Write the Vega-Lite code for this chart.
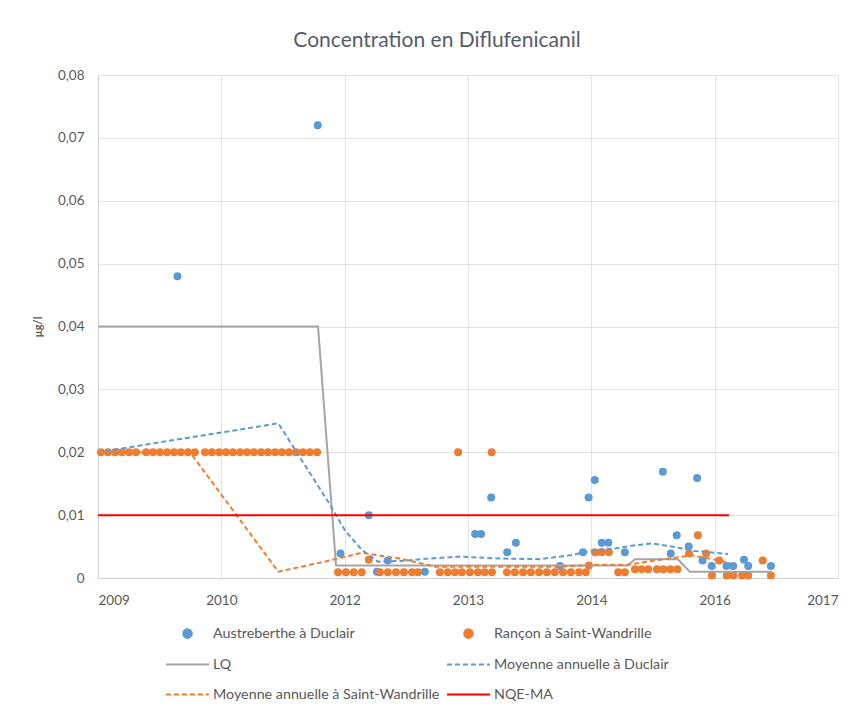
{
  "$schema": "https://vega.github.io/schema/vega-lite/v6.json",
  "width": 740,
  "height": 503,
  "autosize": {"type": "none"},
  "padding": {"left": 98, "top": 75, "right": 24, "bottom": 128},
  "background": "white",
  "title": {"text": "Concentration en Diflufenicanil", "fontSize": 21, "font": "Lato", "fontWeight": "normal", "color": "#555D69", "anchor": "middle", "dx": -31, "offset": 17},
  "config": {
    "view": {"stroke": null},
    "font": "Lato",
    "axis": {"labelFont": "Lato", "labelFontSize": 13.5, "labelColor": "#595959", "gridColor": "#E3E3E3", "domainColor": "#D0D0D0", "ticks": false, "titleFont": "Lato"}
  },
  "datasets": {
    "pts": [
      {"serie": "Austreberthe à Duclair", "date": "2010-05-24", "val": 0.048},
      {"serie": "Austreberthe à Duclair", "date": "2011-12-14", "val": 0.072},
      {"serie": "Austreberthe à Duclair", "date": "2012-03-15", "val": 0.0039},
      {"serie": "Austreberthe à Duclair", "date": "2012-07-08", "val": 0.010},
      {"serie": "Austreberthe à Duclair", "date": "2012-08-10", "val": 0.001},
      {"serie": "Austreberthe à Duclair", "date": "2012-09-23", "val": 0.0028},
      {"serie": "Austreberthe à Duclair", "date": "2013-02-20", "val": 0.001},
      {"serie": "Austreberthe à Duclair", "date": "2013-09-12", "val": 0.007},
      {"serie": "Austreberthe à Duclair", "date": "2013-10-06", "val": 0.007},
      {"serie": "Austreberthe à Duclair", "date": "2013-11-16", "val": 0.0128},
      {"serie": "Austreberthe à Duclair", "date": "2014-01-20", "val": 0.0041},
      {"serie": "Austreberthe à Duclair", "date": "2014-02-24", "val": 0.0056},
      {"serie": "Austreberthe à Duclair", "date": "2014-08-22", "val": 0.0019},
      {"serie": "Austreberthe à Duclair", "date": "2014-11-23", "val": 0.0041},
      {"serie": "Austreberthe à Duclair", "date": "2014-12-16", "val": 0.0128},
      {"serie": "Austreberthe à Duclair", "date": "2015-01-10", "val": 0.0156},
      {"serie": "Austreberthe à Duclair", "date": "2015-02-07", "val": 0.0056},
      {"serie": "Austreberthe à Duclair", "date": "2015-03-06", "val": 0.0056},
      {"serie": "Austreberthe à Duclair", "date": "2015-05-12", "val": 0.0041},
      {"serie": "Austreberthe à Duclair", "date": "2015-10-13", "val": 0.0169},
      {"serie": "Austreberthe à Duclair", "date": "2015-11-14", "val": 0.0039},
      {"serie": "Austreberthe à Duclair", "date": "2015-12-08", "val": 0.0068},
      {"serie": "Austreberthe à Duclair", "date": "2016-01-26", "val": 0.005},
      {"serie": "Austreberthe à Duclair", "date": "2016-02-29", "val": 0.0159},
      {"serie": "Austreberthe à Duclair", "date": "2016-03-22", "val": 0.0028},
      {"serie": "Austreberthe à Duclair", "date": "2016-04-28", "val": 0.0019},
      {"serie": "Austreberthe à Duclair", "date": "2016-06-27", "val": 0.0019},
      {"serie": "Austreberthe à Duclair", "date": "2016-07-24", "val": 0.0019},
      {"serie": "Austreberthe à Duclair", "date": "2016-09-06", "val": 0.0029},
      {"serie": "Austreberthe à Duclair", "date": "2016-09-23", "val": 0.0019},
      {"serie": "Austreberthe à Duclair", "date": "2016-12-24", "val": 0.0019},
      {"serie": "Rançon à Saint-Wandrille", "date": "2009-07-18", "val": 0.02},
      {"serie": "Rançon à Saint-Wandrille", "date": "2009-08-15", "val": 0.02},
      {"serie": "Rançon à Saint-Wandrille", "date": "2009-09-13", "val": 0.02},
      {"serie": "Rançon à Saint-Wandrille", "date": "2009-10-11", "val": 0.02},
      {"serie": "Rançon à Saint-Wandrille", "date": "2009-11-09", "val": 0.02},
      {"serie": "Rançon à Saint-Wandrille", "date": "2009-12-07", "val": 0.02},
      {"serie": "Rançon à Saint-Wandrille", "date": "2010-01-17", "val": 0.02},
      {"serie": "Rançon à Saint-Wandrille", "date": "2010-02-14", "val": 0.02},
      {"serie": "Rançon à Saint-Wandrille", "date": "2010-03-14", "val": 0.02},
      {"serie": "Rançon à Saint-Wandrille", "date": "2010-04-12", "val": 0.02},
      {"serie": "Rançon à Saint-Wandrille", "date": "2010-05-10", "val": 0.02},
      {"serie": "Rançon à Saint-Wandrille", "date": "2010-06-07", "val": 0.02},
      {"serie": "Rançon à Saint-Wandrille", "date": "2010-07-06", "val": 0.02},
      {"serie": "Rançon à Saint-Wandrille", "date": "2010-08-03", "val": 0.02},
      {"serie": "Rançon à Saint-Wandrille", "date": "2010-09-13", "val": 0.02},
      {"serie": "Rançon à Saint-Wandrille", "date": "2010-10-11", "val": 0.02},
      {"serie": "Rançon à Saint-Wandrille", "date": "2010-11-09", "val": 0.02},
      {"serie": "Rançon à Saint-Wandrille", "date": "2010-12-07", "val": 0.02},
      {"serie": "Rançon à Saint-Wandrille", "date": "2011-01-04", "val": 0.02},
      {"serie": "Rançon à Saint-Wandrille", "date": "2011-02-02", "val": 0.02},
      {"serie": "Rançon à Saint-Wandrille", "date": "2011-03-02", "val": 0.02},
      {"serie": "Rançon à Saint-Wandrille", "date": "2011-03-30", "val": 0.02},
      {"serie": "Rançon à Saint-Wandrille", "date": "2011-04-28", "val": 0.02},
      {"serie": "Rançon à Saint-Wandrille", "date": "2011-05-26", "val": 0.02},
      {"serie": "Rançon à Saint-Wandrille", "date": "2011-06-24", "val": 0.02},
      {"serie": "Rançon à Saint-Wandrille", "date": "2011-07-22", "val": 0.02},
      {"serie": "Rançon à Saint-Wandrille", "date": "2011-08-19", "val": 0.02},
      {"serie": "Rançon à Saint-Wandrille", "date": "2011-09-17", "val": 0.02},
      {"serie": "Rançon à Saint-Wandrille", "date": "2011-10-15", "val": 0.02},
      {"serie": "Rançon à Saint-Wandrille", "date": "2011-11-12", "val": 0.02},
      {"serie": "Rançon à Saint-Wandrille", "date": "2011-12-11", "val": 0.02},
      {"serie": "Rançon à Saint-Wandrille", "date": "2012-03-05", "val": 0.0009},
      {"serie": "Rançon à Saint-Wandrille", "date": "2012-04-06", "val": 0.0009},
      {"serie": "Rançon à Saint-Wandrille", "date": "2012-05-08", "val": 0.0009},
      {"serie": "Rançon à Saint-Wandrille", "date": "2012-06-09", "val": 0.0009},
      {"serie": "Rançon à Saint-Wandrille", "date": "2012-07-08", "val": 0.0029},
      {"serie": "Rançon à Saint-Wandrille", "date": "2012-08-22", "val": 0.0009},
      {"serie": "Rançon à Saint-Wandrille", "date": "2012-09-23", "val": 0.0009},
      {"serie": "Rançon à Saint-Wandrille", "date": "2012-10-26", "val": 0.0009},
      {"serie": "Rançon à Saint-Wandrille", "date": "2012-11-27", "val": 0.0009},
      {"serie": "Rançon à Saint-Wandrille", "date": "2012-12-30", "val": 0.0009},
      {"serie": "Rançon à Saint-Wandrille", "date": "2013-01-23", "val": 0.0009},
      {"serie": "Rançon à Saint-Wandrille", "date": "2013-04-22", "val": 0.0009},
      {"serie": "Rançon à Saint-Wandrille", "date": "2013-05-24", "val": 0.0009},
      {"serie": "Rançon à Saint-Wandrille", "date": "2013-06-22", "val": 0.0009},
      {"serie": "Rançon à Saint-Wandrille", "date": "2013-07-05", "val": 0.02},
      {"serie": "Rançon à Saint-Wandrille", "date": "2013-07-20", "val": 0.0009},
      {"serie": "Rançon à Saint-Wandrille", "date": "2013-08-22", "val": 0.0009},
      {"serie": "Rançon à Saint-Wandrille", "date": "2013-09-23", "val": 0.0009},
      {"serie": "Rançon à Saint-Wandrille", "date": "2013-10-21", "val": 0.0009},
      {"serie": "Rançon à Saint-Wandrille", "date": "2013-11-18", "val": 0.02},
      {"serie": "Rançon à Saint-Wandrille", "date": "2013-11-19", "val": 0.0009},
      {"serie": "Rançon à Saint-Wandrille", "date": "2014-01-19", "val": 0.0009},
      {"serie": "Rançon à Saint-Wandrille", "date": "2014-02-20", "val": 0.0009},
      {"serie": "Rançon à Saint-Wandrille", "date": "2014-03-25", "val": 0.0009},
      {"serie": "Rançon à Saint-Wandrille", "date": "2014-04-26", "val": 0.0009},
      {"serie": "Rançon à Saint-Wandrille", "date": "2014-05-29", "val": 0.0009},
      {"serie": "Rançon à Saint-Wandrille", "date": "2014-06-30", "val": 0.0009},
      {"serie": "Rançon à Saint-Wandrille", "date": "2014-08-01", "val": 0.0009},
      {"serie": "Rançon à Saint-Wandrille", "date": "2014-09-03", "val": 0.0009},
      {"serie": "Rançon à Saint-Wandrille", "date": "2014-10-05", "val": 0.0009},
      {"serie": "Rançon à Saint-Wandrille", "date": "2014-11-07", "val": 0.0009},
      {"serie": "Rançon à Saint-Wandrille", "date": "2014-12-05", "val": 0.0009},
      {"serie": "Rançon à Saint-Wandrille", "date": "2014-12-17", "val": 0.002},
      {"serie": "Rançon à Saint-Wandrille", "date": "2015-01-11", "val": 0.0041},
      {"serie": "Rançon à Saint-Wandrille", "date": "2015-02-07", "val": 0.0041},
      {"serie": "Rançon à Saint-Wandrille", "date": "2015-03-08", "val": 0.0041},
      {"serie": "Rançon à Saint-Wandrille", "date": "2015-04-15", "val": 0.0009},
      {"serie": "Rançon à Saint-Wandrille", "date": "2015-05-12", "val": 0.0009},
      {"serie": "Rançon à Saint-Wandrille", "date": "2015-06-22", "val": 0.0014},
      {"serie": "Rançon à Saint-Wandrille", "date": "2015-07-19", "val": 0.0014},
      {"serie": "Rançon à Saint-Wandrille", "date": "2015-08-15", "val": 0.0014},
      {"serie": "Rançon à Saint-Wandrille", "date": "2015-09-19", "val": 0.0014},
      {"serie": "Rançon à Saint-Wandrille", "date": "2015-10-15", "val": 0.0014},
      {"serie": "Rançon à Saint-Wandrille", "date": "2015-11-13", "val": 0.0014},
      {"serie": "Rançon à Saint-Wandrille", "date": "2015-12-11", "val": 0.0014},
      {"serie": "Rançon à Saint-Wandrille", "date": "2016-01-27", "val": 0.0039},
      {"serie": "Rançon à Saint-Wandrille", "date": "2016-03-03", "val": 0.0068},
      {"serie": "Rançon à Saint-Wandrille", "date": "2016-04-05", "val": 0.0039},
      {"serie": "Rançon à Saint-Wandrille", "date": "2016-04-29", "val": 0.0004},
      {"serie": "Rançon à Saint-Wandrille", "date": "2016-05-28", "val": 0.0028},
      {"serie": "Rançon à Saint-Wandrille", "date": "2016-06-28", "val": 0.0004},
      {"serie": "Rançon à Saint-Wandrille", "date": "2016-07-25", "val": 0.0004},
      {"serie": "Rançon à Saint-Wandrille", "date": "2016-08-29", "val": 0.0004},
      {"serie": "Rançon à Saint-Wandrille", "date": "2016-09-23", "val": 0.0004},
      {"serie": "Rançon à Saint-Wandrille", "date": "2016-11-21", "val": 0.0028},
      {"serie": "Rançon à Saint-Wandrille", "date": "2016-12-24", "val": 0.0004}
    ],
    "lines": [
      {"serie": "LQ", "date": "2009-07-06", "val": 0.04},
      {"serie": "LQ", "date": "2011-12-15", "val": 0.04},
      {"serie": "LQ", "date": "2012-02-26", "val": 0.002},
      {"serie": "LQ", "date": "2015-05-24", "val": 0.002},
      {"serie": "LQ", "date": "2015-06-22", "val": 0.003},
      {"serie": "LQ", "date": "2015-12-12", "val": 0.003},
      {"serie": "LQ", "date": "2016-01-30", "val": 0.001},
      {"serie": "LQ", "date": "2016-12-28", "val": 0.001},
      {"serie": "Moyenne annuelle à Duclair", "date": "2009-07-06", "val": 0.02},
      {"serie": "Moyenne annuelle à Duclair", "date": "2011-07-07", "val": 0.0246},
      {"serie": "Moyenne annuelle à Duclair", "date": "2012-02-01", "val": 0.0117},
      {"serie": "Moyenne annuelle à Duclair", "date": "2012-04-02", "val": 0.0076},
      {"serie": "Moyenne annuelle à Duclair", "date": "2012-06-09", "val": 0.0045},
      {"serie": "Moyenne annuelle à Duclair", "date": "2012-08-14", "val": 0.0026},
      {"serie": "Moyenne annuelle à Duclair", "date": "2012-11-11", "val": 0.0027},
      {"serie": "Moyenne annuelle à Duclair", "date": "2013-03-12", "val": 0.0031},
      {"serie": "Moyenne annuelle à Duclair", "date": "2013-07-12", "val": 0.0034},
      {"serie": "Moyenne annuelle à Duclair", "date": "2013-12-21", "val": 0.0031},
      {"serie": "Moyenne annuelle à Duclair", "date": "2014-06-02", "val": 0.003},
      {"serie": "Moyenne annuelle à Duclair", "date": "2014-10-01", "val": 0.0036},
      {"serie": "Moyenne annuelle à Duclair", "date": "2015-01-03", "val": 0.0044},
      {"serie": "Moyenne annuelle à Duclair", "date": "2015-04-02", "val": 0.0047},
      {"serie": "Moyenne annuelle à Duclair", "date": "2015-06-22", "val": 0.0052},
      {"serie": "Moyenne annuelle à Duclair", "date": "2015-08-30", "val": 0.0055},
      {"serie": "Moyenne annuelle à Duclair", "date": "2015-11-19", "val": 0.005},
      {"serie": "Moyenne annuelle à Duclair", "date": "2016-02-20", "val": 0.0043},
      {"serie": "Moyenne annuelle à Duclair", "date": "2016-07-03", "val": 0.0038},
      {"serie": "Moyenne annuelle à Saint-Wandrille", "date": "2009-07-06", "val": 0.02},
      {"serie": "Moyenne annuelle à Saint-Wandrille", "date": "2010-07-14", "val": 0.02},
      {"serie": "Moyenne annuelle à Saint-Wandrille", "date": "2011-07-07", "val": 0.001},
      {"serie": "Moyenne annuelle à Saint-Wandrille", "date": "2012-01-11", "val": 0.0026},
      {"serie": "Moyenne annuelle à Saint-Wandrille", "date": "2012-06-09", "val": 0.004},
      {"serie": "Moyenne annuelle à Saint-Wandrille", "date": "2012-11-11", "val": 0.0031},
      {"serie": "Moyenne annuelle à Saint-Wandrille", "date": "2013-04-02", "val": 0.0018},
      {"serie": "Moyenne annuelle à Saint-Wandrille", "date": "2013-12-21", "val": 0.0018},
      {"serie": "Moyenne annuelle à Saint-Wandrille", "date": "2014-08-22", "val": 0.0018},
      {"serie": "Moyenne annuelle à Saint-Wandrille", "date": "2015-01-11", "val": 0.0021},
      {"serie": "Moyenne annuelle à Saint-Wandrille", "date": "2015-05-24", "val": 0.0021},
      {"serie": "Moyenne annuelle à Saint-Wandrille", "date": "2015-10-01", "val": 0.0029},
      {"serie": "Moyenne annuelle à Saint-Wandrille", "date": "2016-02-08", "val": 0.0036},
      {"serie": "Moyenne annuelle à Saint-Wandrille", "date": "2016-04-29", "val": 0.003},
      {"serie": "Moyenne annuelle à Saint-Wandrille", "date": "2016-07-11", "val": 0.0024},
      {"serie": "NQE-MA", "date": "2009-07-06", "val": 0.01},
      {"serie": "NQE-MA", "date": "2016-07-07", "val": 0.01}
    ]
  },
  "encoding": {
    "x": {
      "field": "date", "type": "temporal",
      "scale": {"type": "utc", "nice": false, "domain": [{"year": 2009, "month": 7, "date": 6, "utc": true}, {"year": 2017, "month": 9, "date": 22, "utc": true}]},
      "axis": {
        "title": null, "grid": true, "format": "%Y", "labelPadding": 15,
        "values": [
          {"year": 2009, "month": 7, "date": 6, "utc": true},
          {"year": 2010, "month": 11, "date": 18, "utc": true},
          {"year": 2012, "month": 4, "date": 1, "utc": true},
          {"year": 2013, "month": 8, "date": 14, "utc": true},
          {"year": 2014, "month": 12, "date": 27, "utc": true},
          {"year": 2016, "month": 5, "date": 10, "utc": true},
          {"year": 2017, "month": 9, "date": 22, "utc": true}
        ]
      }
    },
    "y": {
      "field": "val", "type": "quantitative",
      "scale": {"domain": [0, 0.08], "nice": false},
      "axis": {
        "title": "µg/l", "titleFontSize": 11, "titleFontWeight": "bold", "titleColor": "#595959", "titlePadding": 14,
        "labelPadding": 14, "grid": true,
        "values": [0, 0.01, 0.02, 0.03, 0.04, 0.05, 0.06, 0.07, 0.08],
        "labelExpr": "datum.value == 0 ? '0' : replace(format(datum.value, '.2f'), '.', ',')"
      }
    },
    "color": {
      "field": "serie", "type": "nominal",
      "scale": {
        "domain": ["Austreberthe à Duclair", "Rançon à Saint-Wandrille", "LQ", "Moyenne annuelle à Duclair", "Moyenne annuelle à Saint-Wandrille", "NQE-MA"],
        "range": ["#5B9BD5", "#ED7D31", "#A5A5A5", "#5B9BD5", "#ED7D31", "#FF0000"]
      },
      "legend": {
        "orient": "none", "legendX": 67, "legendY": 536, "direction": "horizontal", "columns": 2, "title": null, "padding": 0,
        "labelFont": "Lato", "labelFontSize": 14.3, "labelColor": "#595959", "labelOffset": 3, "labelLimit": 400,
        "symbolSize": 1849, "symbolStrokeWidth": 2, "symbolType": "stroke", "columnPadding": 3, "rowPadding": -5,
        "encode": {
          "symbols": {
            "update": {
              "shape": {"signal": "indexof(['Austreberthe à Duclair','Rançon à Saint-Wandrille'], datum.value) >= 0 ? 'M0.2,0L0.185,0.077L0.141,0.141L0.077,0.185L0,0.2L-0.077,0.185L-0.141,0.141L-0.185,0.077L-0.2,0L-0.185,-0.077L-0.141,-0.141L-0.077,-0.185L0,-0.2L0.077,-0.185L0.141,-0.141L0.185,-0.077Z' : 'stroke'"},
              "fill": {"signal": "indexof(['Austreberthe à Duclair','Rançon à Saint-Wandrille'], datum.value) >= 0 ? scale('color', datum.value) : 'transparent'"},
              "stroke": {"signal": "indexof(['Austreberthe à Duclair','Rançon à Saint-Wandrille'], datum.value) >= 0 ? 'transparent' : scale('color', datum.value)"},
              "strokeDash": {"signal": "indexof(datum.value, 'Moyenne') === 0 ? [5,3] : [1,0]"},
              "strokeWidth": {"value": 2},
              "opacity": {"value": 1}
            }
          }
        }
      }
    }
  },
  "layer": [
    {"data": {"name": "pts"}, "mark": {"type": "point", "filled": true, "size": 64, "opacity": 1, "strokeWidth": 0}},
    {"data": {"name": "lines"}, "mark": {"type": "line", "strokeWidth": 2},
     "encoding": {"strokeDash": {"field": "serie", "type": "nominal", "legend": null,
       "scale": {"domain": ["LQ", "Moyenne annuelle à Duclair", "Moyenne annuelle à Saint-Wandrille", "NQE-MA"], "range": [[1, 0], [5, 3], [5, 3], [1, 0]]}}}}
  ]
}
